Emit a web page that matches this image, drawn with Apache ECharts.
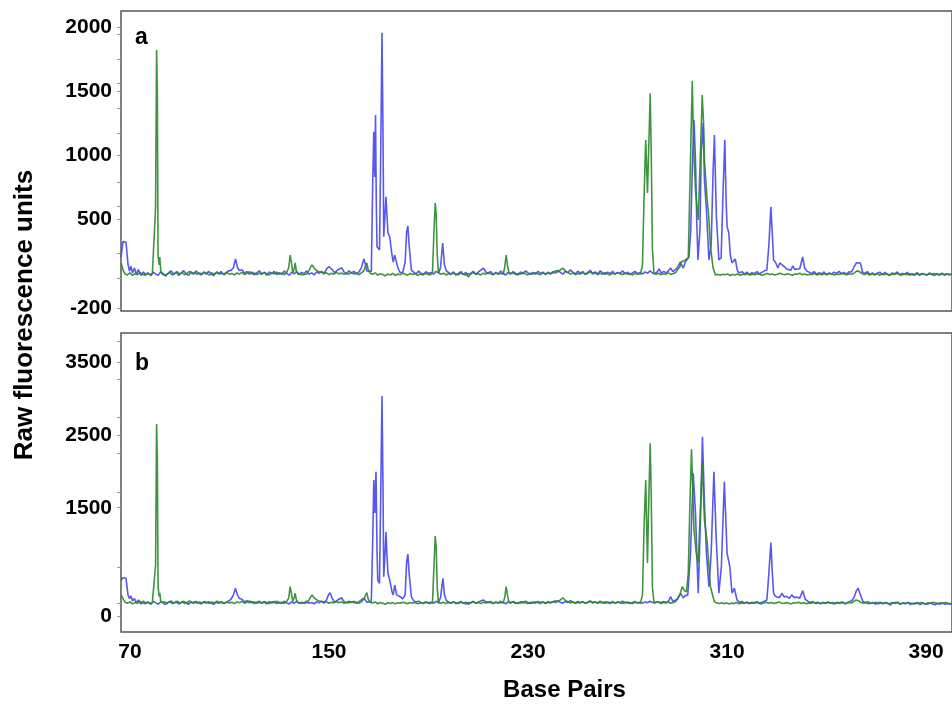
<!DOCTYPE html>
<html>
<head>
<meta charset="utf-8">
<script src="https://cdn.jsdelivr.net/npm/echarts@6/dist/echarts.min.js"></script>
<style>
html,body{margin:0;padding:0;background:#fff;}
#chart{width:952px;height:705px;}
</style>
</head>
<body>
<div id="chart"></div>
<script>
// ---------- tick labels ----------
const xTicks = [70, 150, 230, 310, 390];
const yTicksA = [-200, 500, 1000, 1500, 2000];
const yMinorA = [40, 236, 603, 791, 1174, 1370, 1566, 1753, 1949];
const yTicksB = [0, 1500, 2500, 3500];
const yMinorB = [188, 684, 1717, 2254, 2749, 3272, 3795];

// ---------- panel a : [base pairs, raw fluorescence] ----------
const blueA = [
[66.4,205],[67.2,325],[68.4,322],[69.2,150],[69.8,95],[70.4,132],[71.0,80],[71.8,118],[72.6,68],[73.4,106],[74.4,60],[75.4,88],[76.4,64],[77.4,80],[78.4,58],[79.4,86],[80.4,70],[81.4,62],[82.4,90],[83.4,72],[84.4,55],[85.6,84],[86.6,96],[87.6,68],[88.6,86],[89.6,60],[90.6,80],[91.6,98],[92.6,72],[93.6,62],[94.6,88],[95.6,70],[96.6,94],[97.6,76],[98.6,64],[99.6,86],[100.6,70],[101.6,92],[102.6,74],[103.6,58],[104.6,84],[105.6,72],[106.6,90],[107.6,68],[108.6,82],[109.6,96],[110.6,100],[111.6,120],[112.4,190],[113.2,124],[114.0,98],[115.0,104],[116.0,78],[117.0,90],[118.0,70],[119.0,86],[120.0,64],[121.0,80],[122.0,96],[123.0,72],[124.0,84],[125.0,62],[126.0,88],[127.0,74],[128.0,92],[129.0,66],[130.0,82],[131.0,70],[132.0,94],[133.0,76],[134.0,62],[135.0,86],[136.0,72],[137.0,90],[138.0,68],[139.0,84],[140.0,74],[141.0,96],[142.0,70],[143.0,80],[144.0,64],[145.0,88],[146.0,76],[147.0,92],[148.0,70],[149.0,110],[150.0,130],[150.7,142],[151.4,104],[152.2,82],[153.0,96],[154.0,110],[155.2,118],[156.0,88],[157.0,74],[158.0,96],[159.0,80],[160.0,92],[161.0,72],[162.0,86],[163.0,120],[164.0,190],[164.6,150],[165.2,96],[166.0,84],[167.0,92],
[167.6,807],[168.0,1185],[168.4,830],[168.7,1315],[169.0,650],[169.3,285],[169.8,275],[170.3,259],[170.8,1041],[171.3,1959],[171.7,1198],[172.0,363],[172.5,533],[172.9,676],[173.3,533],[173.7,392],[174.4,363],[175.2,236],[175.8,165],[176.4,220],[177.2,158],[177.6,126],[178.4,87],[179.6,79],[180.6,165],[181.2,400],[181.7,447],[182.2,298],[183.1,103],[184.0,86],[185.0,72],[186.0,94],[187.0,78],[188.0,66],[189.0,90],[190.0,76],[191.0,84],[192.0,70],[193.0,92],[194.0,80],[194.8,118],[195.7,314],[196.4,142],[197.2,95],[198.0,80],[199.0,70],[200.0,88],[201.0,62],[202.0,76],[203.0,90],[204.0,68],[205.0,84],[206.0,48],[207.0,78],[208.0,92],[209.0,70],[210.0,86],[211.0,102],[212.0,118],[213.0,88],[214.0,74],[215.0,92],[216.0,66],[217.0,84],[218.0,72],[219.0,94],[220.0,78],[221.0,62],[222.0,86],[223.0,70],[224.0,90],[225.0,76],[226.0,64],[227.0,88],[228.0,72],[229.0,96],[230.0,80],[231.0,68],[232.0,84],[233.0,70],[234.0,92],[235.0,76],[236.0,86],[237.0,66],[238.0,80],[239.0,72],[240.0,90],[241.0,78],[242.0,100],[243.0,84],[244.0,70],[245.0,92],[246.0,80],[247.0,104],[248.0,86],[249.0,72],[250.0,94],[251.0,78],[252.0,90],[253.0,70],[254.0,84],[255.0,100],[256.0,76],[257.0,88],[258.0,72],[259.0,96],[260.0,80],[261.0,68],[262.0,86],[263.0,74],[264.0,92],[265.0,70],[266.0,84],[267.0,76],[268.0,96],[269.0,72],[270.0,86],[271.0,66],[272.0,80],[273.0,92],[274.0,74],[275.0,84],[276.0,70],[277.0,88],[278.0,76],[279.0,96],[280.0,80],[281.0,72],[282.0,90],[282.7,111],[283.5,78],[284.5,92],[285.5,80],[286.5,98],[287.3,118],[288.2,90],[289.0,104],[290.0,120],[291.2,165],[292.4,118],[293.2,165],[294.0,150],[294.7,207],[295.4,416],[296.0,885],[296.7,1276],[297.3,963],[297.8,494],[298.3,181],[299.1,416],[299.6,1018],[300.4,1253],[300.9,807],[301.7,572],[302.7,181],[303.6,298],[304.4,885],[304.9,1159],[305.7,520],[306.7,181],[307.6,197],[308.4,729],[309.1,1120],[309.6,650],[310.0,442],[310.7,392],[311.3,220],[312.0,158],[312.7,150],[313.3,189],[314.0,110],[314.7,79],[316.0,90],[317.0,70],[318.0,86],[319.0,66],[320.0,82],[321.0,74],[322.0,90],[323.0,72],[324.0,84],[325.0,96],[326.0,103],[326.8,298],[327.6,598],[328.2,376],[328.7,181],[329.6,158],[330.4,118],[331.2,158],[332.0,150],[333.2,126],[334.0,110],[334.8,118],[335.6,100],[336.4,134],[337.2,108],[338.0,118],[339.2,112],[340.4,205],[341.2,116],[342.0,96],[342.8,87],[344.0,74],[345.0,90],[346.0,68],[347.0,82],[348.0,72],[349.0,88],[350.0,64],[351.0,80],[352.0,70],[353.0,86],[354.0,76],[355.0,92],[356.0,72],[357.0,84],[358.0,70],[359.0,88],[360.0,87],[361.2,134],[362.0,160],[362.7,168],[363.6,158],[364.4,87],[365.4,76],[366.4,90],[367.4,68],[368.4,80],[369.4,62],[370.4,78],[371.4,86],[372.4,66],[373.4,84],[374.4,70],[375.4,60],[376.4,80],[377.4,72],[378.4,88],[379.4,64],[380.4,76],[381.4,70],[382.4,84],[383.4,62],[384.4,74],[385.4,68],[386.4,82],[387.4,60],[388.4,76],[389.4,70],[390.4,64],[391.4,80],[392.4,68],[393.4,60],[394.4,74],[395.4,66],[396.4,78],[397.4,62],[398.4,72],[399.4,64],[400.8,70]
];

const greenA = [
[66.4,158],[67.2,103],[68.0,72],[69.0,64],[70.0,80],[71.0,60],[72.0,74],[73.0,66],[74.0,82],[75.0,70],[76.0,62],[77.0,78],[78.0,68],[79.0,74],[79.8,80],[80.3,588],[80.7,1824],[81.0,1511],[81.3,220],[81.7,142],[82.0,205],[82.4,87],[83.2,66],[84.0,80],[85.0,70],[86.0,84],[87.0,64],[88.0,76],[89.0,90],[90.0,70],[91.0,82],[92.0,66],[93.0,78],[94.0,92],[95.0,72],[96.0,84],[97.0,68],[98.0,80],[99.0,70],[100.0,86],[101.0,74],[102.0,64],[103.0,80],[104.0,70],[105.0,88],[106.0,72],[107.0,78],[108.0,66],[109.0,82],[110.0,70],[111.0,76],[112.0,64],[113.0,80],[114.0,70],[115.0,84],[116.0,68],[117.0,76],[118.0,90],[119.0,72],[120.0,80],[121.0,66],[122.0,78],[123.0,70],[124.0,84],[125.0,74],[126.0,64],[127.0,80],[128.0,72],[129.0,86],[130.0,70],[131.0,78],[132.0,66],[133.0,84],[133.8,120],[134.4,220],[135.0,150],[135.4,80],[136.0,110],[136.4,158],[136.9,90],[137.6,72],[138.4,80],[139.2,66],[140.0,78],[141.0,70],[142.0,100],[142.6,126],[143.2,142],[144.0,118],[144.8,130],[145.6,90],[146.4,76],[147.2,84],[148.0,70],[149.0,80],[150.0,66],[151.0,78],[152.0,70],[153.0,84],[154.0,72],[155.0,80],[156.0,68],[157.0,76],[158.0,70],[159.0,82],[160.0,72],[161.0,78],[162.0,66],[163.0,80],[164.0,96],[164.6,130],[165.2,158],[165.8,100],[166.6,76],[167.6,70],[168.6,80],[169.6,62],[170.6,74],[171.6,68],[172.6,56],[173.6,72],[174.6,64],[175.6,76],[176.6,60],[177.6,72],[178.6,66],[179.6,78],[180.6,70],[181.6,62],[182.6,76],[183.6,68],[184.6,74],[185.6,60],[186.6,72],[187.6,66],[188.6,78],[189.6,70],[190.6,64],[191.6,80],[192.2,416],[192.7,627],[193.1,533],[193.5,220],[194.0,79],[195.0,70],[196.0,78],[197.0,64],[198.0,74],[199.0,68],[200.0,80],[201.0,72],[202.0,66],[203.0,78],[204.0,70],[205.0,62],[206.0,76],[207.0,70],[208.0,82],[209.0,68],[210.0,74],[211.0,64],[212.0,78],[213.0,70],[214.0,84],[215.0,72],[216.0,66],[217.0,80],[218.0,70],[219.0,76],[220.0,70],[220.6,120],[221.2,220],[221.8,130],[222.4,76],[223.2,70],[224.0,80],[225.0,66],[226.0,76],[227.0,70],[228.0,84],[229.0,72],[230.0,64],[231.0,78],[232.0,70],[233.0,82],[234.0,72],[235.0,66],[236.0,80],[237.0,70],[238.0,86],[239.0,74],[240.0,80],[241.0,96],[242.0,88],[243.0,104],[244.0,118],[245.0,96],[246.0,84],[247.0,70],[248.0,80],[249.0,66],[250.0,76],[251.0,70],[252.0,82],[253.0,68],[254.0,76],[255.0,88],[256.0,72],[257.0,80],[258.0,66],[259.0,78],[260.0,70],[261.0,84],[262.0,72],[263.0,64],[264.0,78],[265.0,70],[266.0,82],[267.0,74],[268.0,66],[269.0,80],[270.0,70],[271.0,76],[272.0,64],[273.0,78],[274.0,70],[275.2,72],[276.0,142],[276.6,650],[277.3,1120],[278.0,705],[278.6,1120],[279.1,1485],[279.5,1041],[280.0,259],[280.6,87],[281.4,70],[282.4,78],[283.4,66],[284.4,74],[285.4,70],[286.4,80],[287.4,68],[288.4,76],[289.4,84],[290.0,103],[291.0,126],[291.6,165],[292.4,150],[293.2,181],[294.4,197],[295.3,963],[296.0,1584],[296.6,1041],[297.3,729],[298.4,494],[299.2,963],[300.0,1472],[300.5,1276],[300.9,963],[302.0,650],[302.6,533],[303.3,285],[304.4,118],[305.3,64],[306.2,70],[307.2,62],[308.2,70],[309.2,66],[310.2,72],[311.2,60],[312.2,68],[313.2,64],[314.2,72],[315.2,62],[316.2,70],[317.2,66],[318.2,74],[319.2,64],[320.2,70],[321.2,66],[322.2,74],[323.2,68],[324.2,62],[325.2,70],[326.2,76],[327.2,68],[328.2,72],[329.2,64],[330.2,70],[331.2,78],[332.2,70],[333.2,66],[334.2,74],[335.2,68],[336.2,62],[337.2,72],[338.2,70],[339.2,78],[340.2,66],[341.2,72],[342.2,64],[343.2,70],[344.2,68],[345.2,76],[346.2,64],[347.2,72],[348.2,66],[349.2,74],[350.2,68],[351.2,76],[352.2,70],[353.2,64],[354.2,72],[355.2,68],[356.2,78],[357.2,70],[358.2,66],[359.2,74],[360.2,70],[361.2,80],[362.2,96],[363.2,90],[364.2,74],[365.2,68],[366.2,76],[367.2,64],[368.2,72],[369.2,68],[370.2,76],[371.2,62],[372.2,72],[373.2,66],[374.2,74],[375.2,64],[376.2,72],[377.2,68],[378.2,76],[379.2,70],[380.2,64],[381.2,72],[382.2,66],[383.2,74],[384.2,68],[385.2,62],[386.2,72],[387.2,66],[388.2,74],[389.2,70],[390.2,64],[391.2,72],[392.2,68],[393.2,76],[394.2,70],[395.2,64],[396.2,72],[397.2,68],[398.2,74],[399.2,70],[400.8,72]
];

// ---------- panel b ----------
const blueB = [
[66.4,500],[67.2,535],[68.4,530],[69.2,300],[69.8,250],[70.4,285],[71.0,215],[71.8,250],[72.6,190],[73.4,230],[74.4,175],[75.4,215],[76.4,185],[77.4,200],[78.4,170],[79.4,210],[80.4,190],[81.4,172],[82.4,205],[83.4,186],[84.4,168],[85.6,200],[86.6,215],[87.6,182],[88.6,205],[89.6,175],[90.6,195],[91.6,212],[92.6,186],[93.6,172],[94.6,204],[95.6,184],[96.6,210],[97.6,190],[98.6,176],[99.6,202],[100.6,186],[101.6,208],[102.6,188],[103.6,170],[104.6,198],[105.6,184],[106.6,206],[107.6,180],[108.6,196],[109.6,215],[110.6,240],[111.6,300],[112.4,391],[113.2,300],[114.0,250],[115.0,240],[116.0,205],[117.0,220],[118.0,190],[119.0,208],[120.0,180],[121.0,200],[122.0,214],[123.0,186],[124.0,202],[125.0,176],[126.0,206],[127.0,188],[128.0,210],[129.0,180],[130.0,198],[131.0,184],[132.0,212],[133.0,190],[134.0,176],[135.0,204],[136.0,186],[137.0,208],[138.0,182],[139.0,200],[140.0,188],[141.0,214],[142.0,184],[143.0,196],[144.0,178],[145.0,204],[146.0,190],[147.0,210],[148.0,186],[149.0,230],[149.8,300],[150.4,330],[151.2,260],[152.2,200],[153.0,220],[154.0,240],[155.0,260],[156.0,210],[157.0,190],[158.0,214],[159.0,196],[160.0,212],[161.0,186],[162.0,204],[163.0,230],[164.0,257],[164.6,240],[165.2,200],[166.0,190],[167.0,210],
[167.6,1100],[168.0,1882],[168.4,1428],[168.9,1996],[169.3,900],[169.6,505],[170.3,460],[170.8,1700],[171.3,3038],[171.7,1800],[172.0,551],[172.5,850],[172.9,1170],[173.3,850],[173.7,597],[174.4,505],[175.3,344],[175.8,300],[176.4,436],[177.2,300],[178.0,280],[178.6,275],[179.6,245],[180.6,300],[181.2,750],[181.7,863],[182.2,600],[183.1,275],[184.0,220],[185.0,200],[186.0,214],[187.0,192],[188.0,180],[189.0,206],[190.0,190],[191.0,200],[192.0,184],[193.0,212],[194.0,196],[194.8,260],[195.8,528],[196.4,300],[197.2,220],[198.0,200],[199.0,186],[200.0,206],[201.0,178],[202.0,192],[203.0,210],[204.0,184],[205.0,200],[206.0,170],[207.0,196],[208.0,212],[209.0,186],[210.0,202],[211.0,216],[212.0,230],[213.0,204],[214.0,190],[215.0,210],[216.0,182],[217.0,200],[218.0,188],[219.0,212],[220.0,194],[221.0,178],[222.0,204],[223.0,186],[224.0,208],[225.0,192],[226.0,180],[227.0,206],[228.0,188],[229.0,212],[230.0,196],[231.0,182],[232.0,202],[233.0,186],[234.0,210],[235.0,192],[236.0,204],[237.0,182],[238.0,198],[239.0,188],[240.0,208],[241.0,194],[242.0,216],[243.0,200],[244.0,186],[245.0,210],[246.0,196],[247.0,220],[248.0,202],[249.0,188],[250.0,210],[251.0,194],[252.0,206],[253.0,186],[254.0,200],[255.0,216],[256.0,192],[257.0,204],[258.0,188],[259.0,212],[260.0,196],[261.0,184],[262.0,202],[263.0,190],[264.0,208],[265.0,186],[266.0,200],[267.0,192],[268.0,212],[269.0,188],[270.0,202],[271.0,182],[272.0,196],[273.0,208],[274.0,190],[275.0,200],[276.0,186],[277.0,204],[278.0,192],[279.0,212],[280.0,196],[281.0,188],[282.0,206],[282.7,230],[283.5,194],[284.5,208],[285.5,196],[286.5,214],[287.3,275],[288.2,210],[289.0,220],[290.0,240],[291.3,322],[292.4,260],[293.2,290],[294.2,300],[295.3,877],[296.4,1974],[297.3,1423],[297.9,800],[298.4,322],[299.3,1331],[300.1,2478],[300.9,1561],[301.7,873],[302.7,413],[303.6,873],[304.7,1996],[305.6,1101],[306.7,322],[307.7,688],[308.9,1858],[310.0,873],[311.1,688],[312.0,322],[312.9,391],[314.0,230],[315.0,196],[316.0,210],[317.0,186],[318.0,204],[319.0,182],[320.0,198],[321.0,190],[322.0,208],[323.0,188],[324.0,200],[325.0,214],[326.0,230],[326.8,600],[327.6,1019],[328.2,600],[328.7,322],[329.4,280],[330.0,299],[331.0,260],[332.0,322],[333.0,270],[334.0,280],[335.0,250],[336.0,300],[337.0,262],[338.0,270],[339.2,255],[340.4,358],[341.4,240],[342.4,214],[343.4,196],[344.4,208],[345.4,186],[346.4,200],[347.4,176],[348.4,194],[349.4,182],[350.4,204],[351.4,186],[352.4,196],[353.4,178],[354.4,200],[355.4,184],[356.4,202],[357.4,176],[358.4,194],[359.4,210],[360.4,230],[361.2,280],[362.0,360],[362.7,391],[363.6,300],[364.6,210],[365.6,192],[366.6,206],[367.6,180],[368.6,196],[369.6,172],[370.6,190],[371.6,200],[372.6,178],[373.6,196],[374.6,184],[375.6,160],[376.6,194],[377.6,180],[378.6,200],[379.6,170],[380.6,188],[381.6,178],[382.6,196],[383.6,168],[384.6,186],[385.6,178],[386.6,194],[387.6,166],[388.6,186],[389.6,176],[390.6,170],[391.6,190],[392.6,176],[393.6,164],[394.6,184],[395.6,172],[396.6,188],[397.6,170],[398.6,182],[399.6,172],[400.8,180]
];

const greenB = [
[66.4,300],[67.2,250],[68.0,200],[69.0,186],[70.0,204],[71.0,176],[72.0,194],[73.0,184],[74.0,210],[75.0,192],[76.0,178],[77.0,202],[78.0,186],[79.0,196],[79.8,200],[80.3,712],[80.7,2653],[81.0,2200],[81.3,420],[81.7,280],[82.0,330],[82.4,200],[83.2,180],[84.0,202],[85.0,188],[86.0,210],[87.0,180],[88.0,196],[89.0,214],[90.0,186],[91.0,204],[92.0,182],[93.0,198],[94.0,216],[95.0,190],[96.0,206],[97.0,184],[98.0,202],[99.0,188],[100.0,210],[101.0,194],[102.0,180],[103.0,204],[104.0,188],[105.0,212],[106.0,192],[107.0,200],[108.0,184],[109.0,206],[110.0,188],[111.0,198],[112.0,180],[113.0,204],[114.0,190],[115.0,210],[116.0,186],[117.0,198],[118.0,216],[119.0,192],[120.0,204],[121.0,184],[122.0,200],[123.0,188],[124.0,210],[125.0,196],[126.0,182],[127.0,204],[128.0,190],[129.0,212],[130.0,188],[131.0,200],[132.0,184],[133.0,208],[133.8,260],[134.4,413],[135.0,300],[135.4,210],[136.0,260],[136.4,322],[136.9,230],[137.6,196],[138.4,206],[139.2,184],[140.0,200],[141.0,190],[142.0,230],[142.6,270],[143.2,300],[144.0,260],[144.8,280],[145.6,220],[146.4,196],[147.2,208],[148.0,188],[149.0,202],[150.0,184],[151.0,200],[152.0,190],[153.0,208],[154.0,192],[155.0,204],[156.0,186],[157.0,198],[158.0,190],[159.0,206],[160.0,192],[161.0,200],[162.0,184],[163.0,204],[164.0,240],[164.6,290],[165.2,330],[165.8,240],[166.6,196],[167.6,188],[168.6,204],[169.6,178],[170.6,194],[171.6,186],[172.6,170],[173.6,192],[174.6,180],[175.6,196],[176.6,176],[177.6,192],[178.6,184],[179.6,200],[180.6,190],[181.6,178],[182.6,196],[183.6,186],[184.6,194],[185.6,176],[186.6,192],[187.6,184],[188.6,200],[189.6,190],[190.6,180],[191.6,200],[192.2,700],[192.7,1111],[193.1,950],[193.5,400],[194.0,190],[195.0,184],[196.0,198],[197.0,180],[198.0,194],[199.0,186],[200.0,202],[201.0,192],[202.0,182],[203.0,198],[204.0,188],[205.0,176],[206.0,196],[207.0,188],[208.0,204],[209.0,184],[210.0,196],[211.0,180],[212.0,200],[213.0,188],[214.0,206],[215.0,192],[216.0,182],[217.0,202],[218.0,188],[219.0,196],[220.0,190],[220.6,260],[221.2,413],[221.8,280],[222.4,196],[223.2,188],[224.0,202],[225.0,182],[226.0,196],[227.0,188],[228.0,206],[229.0,192],[230.0,180],[231.0,198],[232.0,188],[233.0,204],[234.0,192],[235.0,182],[236.0,202],[237.0,188],[238.0,208],[239.0,194],[240.0,202],[241.0,220],[242.0,210],[243.0,232],[244.0,260],[245.0,222],[246.0,206],[247.0,188],[248.0,202],[249.0,184],[250.0,196],[251.0,188],[252.0,204],[253.0,184],[254.0,196],[255.0,210],[256.0,190],[257.0,202],[258.0,184],[259.0,198],[260.0,188],[261.0,206],[262.0,192],[263.0,180],[264.0,198],[265.0,188],[266.0,204],[267.0,194],[268.0,182],[269.0,200],[270.0,188],[271.0,196],[272.0,180],[273.0,198],[274.0,188],[275.2,190],[276.0,300],[276.6,1200],[277.3,1882],[278.0,739],[278.6,1700],[279.1,2387],[279.5,1700],[280.0,400],[280.6,200],[281.4,186],[282.4,198],[283.4,180],[284.4,194],[285.4,188],[286.4,202],[287.4,184],[288.4,196],[289.4,210],[290.0,230],[291.0,300],[292.0,413],[292.8,360],[293.7,344],[294.4,600],[295.1,1607],[295.7,2305],[296.7,1193],[297.6,873],[298.4,740],[299.3,1500],[300.0,2112],[300.9,1331],[302.0,1032],[303.3,413],[304.9,206],[305.8,190],[306.8,182],[307.8,192],[308.8,178],[309.8,190],[310.8,176],[311.8,188],[312.8,180],[313.8,194],[314.8,178],[315.8,190],[316.8,182],[317.8,196],[318.8,180],[319.8,190],[320.8,184],[321.8,196],[322.8,186],[323.8,176],[324.8,190],[325.8,200],[326.8,186],[327.8,194],[328.8,180],[329.8,190],[330.8,202],[331.8,188],[332.8,182],[333.8,196],[334.8,186],[335.8,176],[336.8,192],[337.8,188],[338.8,200],[339.8,182],[340.8,194],[341.8,178],[342.8,190],[343.8,184],[344.8,198],[345.8,180],[346.8,192],[347.8,182],[348.8,196],[349.8,186],[350.8,198],[351.8,188],[352.8,178],[353.8,192],[354.8,184],[355.8,200],[356.8,188],[357.8,180],[358.8,194],[359.8,188],[360.8,206],[361.8,230],[362.8,220],[363.8,196],[364.8,184],[365.8,196],[366.8,178],[367.8,190],[368.8,184],[369.8,198],[370.8,176],[371.8,190],[372.8,180],[373.8,196],[374.8,176],[375.8,190],[376.8,184],[377.8,200],[378.8,188],[379.8,176],[380.8,192],[381.8,180],[382.8,196],[383.8,186],[384.8,174],[385.8,190],[386.8,180],[387.8,196],[388.8,188],[389.8,176],[390.8,192],[391.8,184],[392.8,198],[393.8,188],[394.8,178],[395.8,192],[396.8,184],[397.8,196],[398.8,186],[399.8,180],[400.8,190]
];

// ---------- chart ----------
const FONT = '"Liberation Sans", Arial, Helvetica, sans-serif';
const BLUE = '#4646f0';
const GREEN = '#2a8a2a';

const chart = echarts.init(document.getElementById('chart'), null, {renderer: 'canvas'});

function plain(v) { return String(v); }

function yAxisFor(grid, min, max, labels, minor) {
  return {
    type: 'value', gridIndex: grid, min: min, max: max,
    axisLine: {show: false},
    splitLine: {show: false},
    axisTick: {show: true, inside: false, length: 4, customValues: labels.concat(minor),
               lineStyle: {color: '#999', width: 1}},
    axisLabel: {customValues: labels, formatter: plain, fontSize: 21, fontWeight: 'bold', fontFamily: FONT,
                color: '#000', margin: 9}
  };
}

function line(name, data, color, xi, yi) {
  return {
    name: name, type: 'line', xAxisIndex: xi, yAxisIndex: yi, data: data,
    showSymbol: false, symbol: 'none', smooth: false, silent: true,
    lineStyle: {color: color, width: 1.6, opacity: 0.9}
  };
}

const option = {
  animation: false,
  backgroundColor: '#ffffff',
  grid: [
    {left: 121, top: 11, right: -4, height: 300, show: true, borderColor: '#555', borderWidth: 1.5},
    {left: 121, top: 333, right: -4, height: 299, show: true, borderColor: '#555', borderWidth: 1.5}
  ],
  xAxis: [
    {type: 'value', gridIndex: 0, min: 66.4, max: 400.4,
     axisLine: {show: false}, axisTick: {show: false}, axisLabel: {show: false}, splitLine: {show: false}},
    {type: 'value', gridIndex: 1, min: 66.4, max: 400.4,
     axisLine: {show: false}, axisTick: {show: false}, splitLine: {show: false},
     axisLabel: {customValues: xTicks, formatter: plain, fontSize: 21, fontWeight: 'bold', fontFamily: FONT, color: '#000', margin: 10},
     name: 'Base Pairs', nameLocation: 'middle', nameGap: 46,
     nameTextStyle: {fontSize: 24, fontWeight: 'bold', fontFamily: FONT, color: '#000', padding: [0, 0, 0, 56]}}
  ],
  yAxis: [
    yAxisFor(0, -218, 2129, yTicksA, yMinorA),
    yAxisFor(1, -211, 3906, yTicksB, yMinorB)
  ],
  graphic: [
    {type: 'text', x: 135, y: 38, silent: true,
     style: {text: 'a', fontSize: 23, fontWeight: 'bold', fontFamily: FONT, fill: '#000', verticalAlign: 'middle'}},
    {type: 'text', x: 135, y: 364, silent: true,
     style: {text: 'b', fontSize: 23, fontWeight: 'bold', fontFamily: FONT, fill: '#000', verticalAlign: 'middle'}},
    {type: 'text', x: 25, y: 315, rotation: Math.PI / 2, silent: true,
     style: {text: 'Raw fluorescence units', fontSize: 26, fontWeight: 'bold', fontFamily: FONT, fill: '#000',
             align: 'center', verticalAlign: 'middle'}}
  ],
  series: [
    line('blue a', blueA, BLUE, 0, 0),
    line('green a', greenA, GREEN, 0, 0),
    line('blue b', blueB, BLUE, 1, 1),
    line('green b', greenB, GREEN, 1, 1)
  ]
};
chart.setOption(option);
</script>
</body>
</html>
